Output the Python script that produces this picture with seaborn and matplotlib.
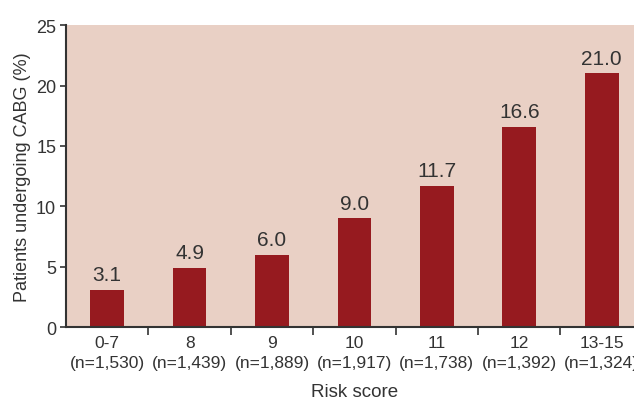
import matplotlib
matplotlib.use("Agg")
import matplotlib.pyplot as plt
import seaborn as sns
import pandas as pd
from matplotlib.ticker import FixedLocator

risk_scores = ["0-7", "8", "9", "10", "11", "12", "13-15"]
patient_counts = ["1,530", "1,439", "1,889", "1,917", "1,738", "1,392", "1,324"]
cabg_pct = [3.1, 4.9, 6.0, 9.0, 11.7, 16.6, 21.0]
y_ticks = [0, 5, 10, 15, 20, 25]

sns.set_theme(style="ticks")
plt.rcParams["font.family"] = ["Liberation Sans Narrow", "Liberation Sans", "DejaVu Sans"]

text_col = "#333333"
bar_col = "#961A1F"
bg_col = "#E9D0C5"

df = pd.DataFrame({"risk": risk_scores, "pct": cabg_pct})

fig = plt.figure(figsize=(6.34, 4.02), dpi=100)
ax = fig.add_axes([0.104, 0.184, 0.91, 0.751])
ax.set_facecolor(bg_col)

sns.barplot(data=df, x="risk", y="pct", color=bar_col, saturation=1,
            width=0.41, ax=ax, edgecolor="none")

for i, v in enumerate(cabg_pct):
    ax.text(i, v + 0.45, f"{v:.1f}", ha="center", va="bottom",
            fontsize=15, color=text_col)

ax.set_xlim(-0.5, len(risk_scores) - 0.5)
ax.set_ylim(0, 25)
ax.set_yticks(y_ticks)
ax.set_yticklabels([str(t) for t in y_ticks], fontsize=13, color=text_col)

ax.set_xticks(range(len(risk_scores)))
ax.set_xticklabels([f"{r}\n(n={n})" for r, n in zip(risk_scores, patient_counts)],
                   fontsize=12.5, color=text_col, linespacing=1.35)
ax.tick_params(axis="x", which="major", length=0, pad=6)
ax.xaxis.set_minor_locator(FixedLocator([i + 0.5 for i in range(len(risk_scores))]))
ax.tick_params(axis="x", which="minor", length=6, width=1.2, color=text_col, direction="out")
ax.tick_params(axis="y", length=4, width=1.2, color=text_col, pad=3)

ax.set_xlabel("Risk score", fontsize=13.5, color=text_col, labelpad=10)
ax.set_ylabel("Patients undergoing CABG (%)", fontsize=13, color=text_col, labelpad=4)

for s in ["top", "right"]:
    ax.spines[s].set_visible(False)
for s in ["left", "bottom"]:
    ax.spines[s].set_color(text_col)
    ax.spines[s].set_linewidth(1.5)

fig.savefig("out.png", dpi=100, facecolor="white")
